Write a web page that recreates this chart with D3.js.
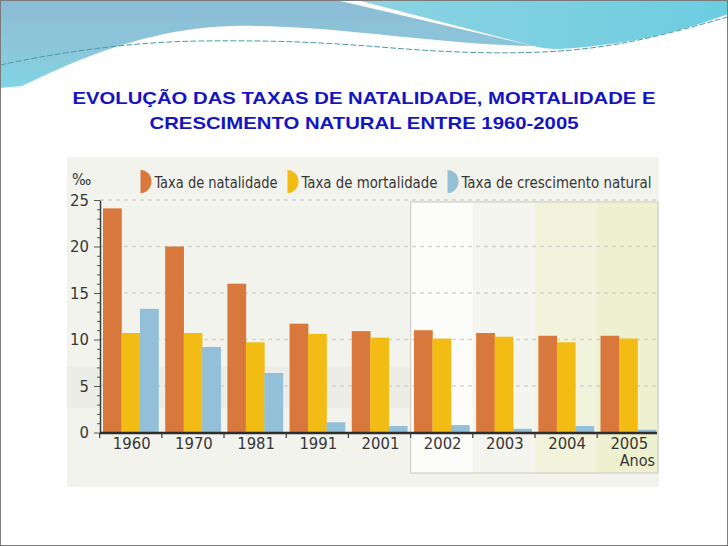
<!DOCTYPE html>
<html>
<head>
<meta charset="utf-8">
<script src="https://cdn.jsdelivr.net/npm/d3@7"></script>
<style>
  body { margin: 0; background: #fff; }
  svg { display: block; }
  .lbl { font-family: "Liberation Sans Narrow", "DejaVu Sans Condensed", sans-serif; fill: #363636; }
</style>
</head>
<body>
<div id="chart"></div>
<script>
// data (per mil)
var years = ["1960", "1970", "1981", "1991", "2001", "2002", "2003", "2004", "2005"];
var natalidade = [24.1, 20.0, 16.0, 11.7, 10.9, 11.0, 10.7, 10.4, 10.4];
var mortalidade = [10.7, 10.7, 9.7, 10.6, 10.2, 10.1, 10.3, 9.7, 10.1];
var crescimento = [13.3, 9.2, 6.4, 1.1, 0.7, 0.8, 0.4, 0.7, 0.3];
var seriesNames = ["Taxa de natalidade", "Taxa de mortalidade", "Taxa de crescimento natural"];
var seriesColors = ["#d9783c", "#f2bc14", "#93bfd9"];
var yTicks = [0, 5, 10, 15, 20, 25];
var insetYears = ["2002", "2003", "2004", "2005"];
var insetFills = ["#fcfcfa", "#f4f5ef", "#f2f3dd", "#eef1cf"];
var titleLines = ["EVOLUÇÃO DAS TAXAS DE NATALIDADE, MORTALIDADE E", "CRESCIMENTO NATURAL ENTRE 1960-2005"];

// layout
var svgWidth = 728;
var svgHeight = 546;
var titleWidths = [583, 429];
var legendWidths = [123, 136, 190];

var svg = d3.select("#chart")
  .append("svg")
  .attr("width", svgWidth)
  .attr("height", svgHeight);

// slide header waves
var defs = svg.append("defs");
var g1 = defs.append("linearGradient").attr("id", "blueWave").attr("x1", 0).attr("y1", 0).attr("x2", 0).attr("y2", 1);
g1.append("stop").attr("offset", "0%").attr("stop-color", "#8cbcd6");
g1.append("stop").attr("offset", "55%").attr("stop-color", "#8cc6da");
g1.append("stop").attr("offset", "100%").attr("stop-color", "#7fd6e4");
var g2 = defs.append("linearGradient").attr("id", "cyanWave").attr("x1", 0).attr("y1", 0).attr("x2", 1).attr("y2", 0);
g2.append("stop").attr("offset", "0%").attr("stop-color", "#8dd3e2");
g2.append("stop").attr("offset", "100%").attr("stop-color", "#6ccde0");

svg.append("path")
  .attr("d", "M0,0 H336 L534,46 C430,44 330,24 232,26 C150,28 80,58 22,86 L0,88 Z")
  .attr("fill", "url(#blueWave)");
svg.append("path")
  .attr("d", "M357,0 H728 V14 C690,28 640,44 560,49 C548,49 540,48 534,46 Z")
  .attr("fill", "url(#cyanWave)");
svg.append("path")
  .attr("d", "M0,65 C60,52 130,42 200,41 C280,40 330,43 380,47 C440,52 500,55 560,51 C630,46 680,30 728,17")
  .attr("fill", "none")
  .attr("stroke", "#4f98a8")
  .attr("stroke-width", 1)
  .attr("stroke-dasharray", "6,2");

// title
svg.selectAll(".title")
  .data(titleLines)
  .enter()
  .append("text")
  .attr("class", "title")
  .attr("x", 364)
  .attr("y", (d, i) => 104 + i * 25)
  .attr("text-anchor", "middle")
  .attr("textLength", (d, i) => titleWidths[i])
  .attr("lengthAdjust", "spacingAndGlyphs")
  .style("font-family", "'Liberation Sans', Arial, sans-serif")
  .style("font-weight", "bold")
  .style("font-size", "17px")
  .style("fill", "#1414c2")
  .text(d => d);

// scanned chart background
svg.append("rect")
  .attr("x", 67).attr("y", 157)
  .attr("width", 592).attr("height", 330)
  .attr("fill", "#f3f3ee");
svg.append("rect")
  .attr("x", 67).attr("y", 367)
  .attr("width", 592).attr("height", 41)
  .attr("fill", "#e6e6e1")
  .attr("opacity", 0.45);

// scales
var xScale = d3.scaleBand()
  .domain(years)
  .range([100, 659])
  .paddingInner(0.108)
  .paddingOuter(0.048);

var xInner = d3.scaleBand()
  .domain(d3.range(3))
  .range([0, xScale.bandwidth()]);

var yScale = d3.scaleLinear()
  .domain([0, 25])
  .range([432.5, 200]);

var gap = xScale.step() * xScale.paddingInner() / 2;
var edge = d => xScale(d) - gap;

// inset box for 2002-2005
svg.selectAll(".insetCol")
  .data(insetYears)
  .enter()
  .append("rect")
  .attr("class", "insetCol")
  .attr("x", d => edge(d))
  .attr("y", 202)
  .attr("width", (d, i) => (i < insetYears.length - 1 ? edge(insetYears[i + 1]) : 658) - edge(d))
  .attr("height", 271)
  .attr("fill", (d, i) => insetFills[i]);
svg.append("rect")
  .attr("x", edge("2002"))
  .attr("y", 202)
  .attr("width", 658 - edge("2002"))
  .attr("height", 271)
  .attr("fill", "none")
  .attr("stroke", "#d3cfc6")
  .attr("stroke-width", 1.2);

// dashed gridlines
svg.selectAll(".grid")
  .data(yTicks.filter(v => v > 0))
  .enter()
  .append("line")
  .attr("class", "grid")
  .attr("x1", 100).attr("x2", 657)
  .attr("y1", d => yScale(d)).attr("y2", d => yScale(d))
  .attr("stroke", "#d4d4cf")
  .attr("stroke-width", 1.3)
  .attr("stroke-dasharray", "4,4");

// bars
var rows = years.map((y, i) => ({ year: y, values: [natalidade[i], mortalidade[i], crescimento[i]] }));

var groups = svg.selectAll(".group")
  .data(rows)
  .enter()
  .append("g")
  .attr("class", "group")
  .attr("transform", d => `translate(${xScale(d.year)},0)`);

groups.selectAll("rect")
  .data(d => d.values)
  .enter()
  .append("rect")
  .attr("x", (d, i) => xInner(i))
  .attr("y", d => yScale(d))
  .attr("width", xInner.bandwidth() + 0.3)
  .attr("height", d => yScale(0) - yScale(d))
  .attr("fill", (d, i) => seriesColors[i]);

// y axis with minor ticks
var yAxis = d3.axisLeft(yScale)
  .tickValues(d3.range(0, 26))
  .tickSize(3)
  .tickSizeOuter(0)
  .tickPadding(8)
  .tickFormat(d => (d % 5 === 0 ? d : ""));

var yG = svg.append("g")
  .attr("transform", "translate(100,0)")
  .call(yAxis);
yG.select(".domain").attr("stroke", "#3a3a3a").attr("stroke-width", 1.5);
yG.selectAll(".tick line").attr("stroke", "#555").attr("x2", d => (d % 5 === 0 ? -6 : -3));
yG.selectAll(".tick text")
  .attr("class", "lbl")
  .style("font-size", "16.5px");

// x axis line and boundary ticks
svg.append("line")
  .attr("x1", 100).attr("x2", 657)
  .attr("y1", 433).attr("y2", 433)
  .attr("stroke", "#2e2e2e")
  .attr("stroke-width", 2.5);

svg.selectAll(".xtick")
  .data(years)
  .enter()
  .append("line")
  .attr("class", "xtick")
  .attr("x1", d => edge(d)).attr("x2", d => edge(d))
  .attr("y1", 433).attr("y2", 438)
  .attr("stroke", "#3a3a3a")
  .attr("stroke-width", 1.2);

svg.selectAll(".xlabel")
  .data(years)
  .enter()
  .append("text")
  .attr("class", "lbl xlabel")
  .attr("x", d => xScale(d) + xScale.bandwidth() / 2 + 1)
  .attr("y", 448.5)
  .attr("text-anchor", "middle")
  .style("font-size", "16.5px")
  .text(d => d);

svg.append("text")
  .attr("class", "lbl")
  .attr("x", 655)
  .attr("y", 466)
  .attr("text-anchor", "end")
  .style("font-size", "16px")
  .text("Anos");

svg.append("text")
  .attr("class", "lbl")
  .attr("x", 72)
  .attr("y", 185)
  .style("font-size", "16px")
  .text("‰");

// legend: half-disc marker then label
var lx = 140.5;
seriesNames.forEach(function(name, i) {
  svg.append("path")
    .attr("d", `M${lx},170 A11,11.5 0 0 1 ${lx},193 Z`)
    .attr("fill", seriesColors[i]);
  svg.append("text")
    .attr("class", "lbl")
    .attr("x", lx + 14)
    .attr("y", 187.5)
    .attr("textLength", legendWidths[i])
    .attr("lengthAdjust", "spacingAndGlyphs")
    .style("font-size", "15.5px")
    .text(name);
  lx = lx + 14 + legendWidths[i] + 10;
});

// slide border
svg.append("rect")
  .attr("x", 0.5).attr("y", 0.5)
  .attr("width", svgWidth - 1).attr("height", svgHeight - 1)
  .attr("fill", "none")
  .attr("stroke", "#7a7a7a");
</script>
</body>
</html>
